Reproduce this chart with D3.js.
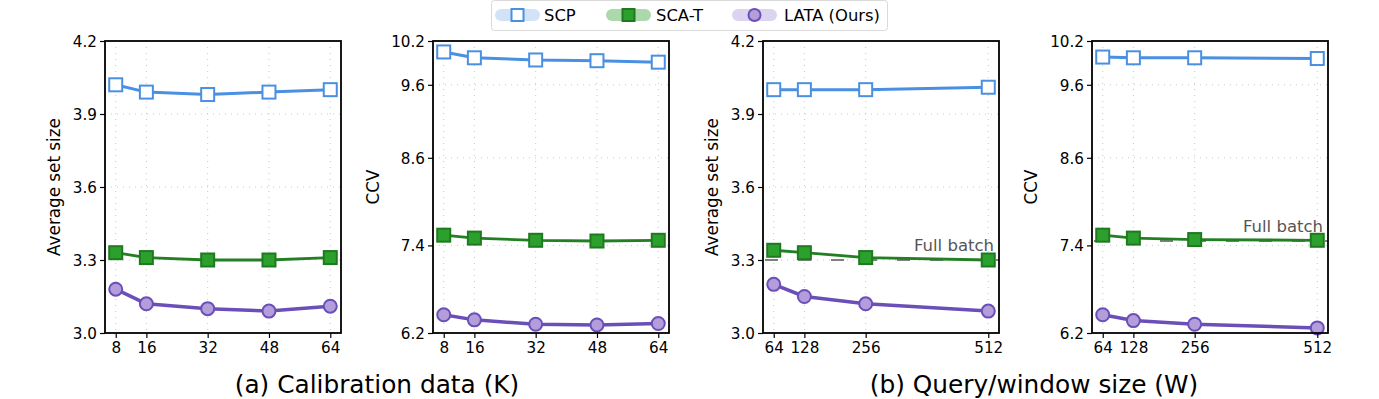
<!DOCTYPE html>
<html><head><meta charset="utf-8">
<script src="https://cdn.jsdelivr.net/npm/d3@7"></script>
<style>body{margin:0;background:#fff}svg{font-family:"DejaVu Sans",sans-serif}</style>
</head><body><svg id="c" width="1379" height="399"></svg>
<script>
const series = ["SCP", "SCA-T", "LATA (Ours)"];
const kValues = [8, 16, 32, 48, 64];
const wValues = [64, 128, 256, 512];
// panel (a) average set size
const kSetSCP = [4.02, 3.99, 3.98, 3.99, 4.00];
const kSetSCAT = [3.33, 3.31, 3.30, 3.30, 3.31];
const kSetLATA = [3.18, 3.12, 3.10, 3.09, 3.11];
// panel (a) CCV
const kCcvSCP = [10.05, 9.97, 9.94, 9.93, 9.91];
const kCcvSCAT = [7.54, 7.50, 7.47, 7.46, 7.47];
const kCcvLATA = [6.45, 6.38, 6.32, 6.31, 6.33];
// panel (b) average set size
const wSetSCP = [4.00, 4.00, 4.00, 4.01];
const wSetSCAT = [3.34, 3.33, 3.31, 3.30];
const wSetLATA = [3.20, 3.15, 3.12, 3.09];
// panel (b) CCV
const wCcvSCP = [9.98, 9.97, 9.97, 9.96];
const wCcvSCAT = [7.54, 7.50, 7.48, 7.47];
const wCcvLATA = [6.45, 6.37, 6.32, 6.27];
const fullBatchSet = 3.30;
const fullBatchCcv = 7.46;
const setTicks = [3.0, 3.3, 3.6, 3.9, 4.2];
const ccvTicks = [6.2, 7.4, 8.6, 9.6, 10.2];

const styles = [
  {line:"#4a90e2", fill:"#ffffff", edge:"#4a90e2", shape:"square", pill:"rgba(74,144,226,0.25)", lw:3},
  {line:"#237f23", fill:"#2ca02c", edge:"#1f7a1f", shape:"square", pill:"rgba(44,160,44,0.4)", lw:2.8},
  {line:"#6a4fb8", fill:"#b39ddb", edge:"#6a4fb8", shape:"circle", pill:"rgba(140,110,210,0.3)", lw:3.5}
];

const svg = d3.select("#c");
const plotTop = 41, plotBottom = 333;

const panels = [
  {x0:105, x1:341, xs:kValues, xd:[5.2,66.8], ticks:setTicks, yd:[3.0,4.2], ys:[kSetSCP,kSetSCAT,kSetLATA], label:"Average set size", labelX:54},
  {x0:433, x1:669, xs:kValues, xd:[5.2,66.8], ticks:ccvTicks, yd:[6.2,10.2], ys:[kCcvSCP,kCcvSCAT,kCcvLATA], label:"CCV", labelX:373},
  {x0:763, x1:999, xs:wValues, xd:[41.6,534.4], ticks:setTicks, yd:[3.0,4.2], ys:[wSetSCP,wSetSCAT,wSetLATA], label:"Average set size", labelX:712, full:fullBatchSet, fullY:251, fullX:994},
  {x0:1092, x1:1328, xs:wValues, xd:[41.6,534.4], ticks:ccvTicks, yd:[6.2,10.2], ys:[wCcvSCP,wCcvSCAT,wCcvLATA], label:"CCV", labelX:1031, full:fullBatchCcv, fullY:232, fullX:1323}
];

function marker(g, shape, cx, cy, s, st) {
  if (shape === "square") {
    g.append("rect").attr("x", cx - s/2).attr("y", cy - s/2).attr("width", s).attr("height", s)
      .attr("fill", st.fill).attr("stroke", st.edge).attr("stroke-width", 2);
  } else {
    g.append("circle").attr("cx", cx).attr("cy", cy).attr("r", s/2)
      .attr("fill", st.fill).attr("stroke", st.edge).attr("stroke-width", 2);
  }
}

panels.forEach(p => {
  const x = d3.scaleLinear().domain(p.xd).range([p.x0, p.x1]);
  const y = d3.scaleLinear().domain(p.yd).range([plotBottom, plotTop]);
  const g = svg.append("g");
  g.selectAll(".gx").data(p.xs).enter().append("line")
    .attr("x1", d => x(d)).attr("x2", d => x(d)).attr("y1", plotTop).attr("y2", plotBottom)
    .attr("stroke", "#c8c8c8").attr("stroke-width", 1).attr("stroke-dasharray", "1,5");
  g.selectAll(".gy").data(p.ticks.slice(1, -1)).enter().append("line")
    .attr("y1", d => y(d)).attr("y2", d => y(d)).attr("x1", p.x0).attr("x2", p.x1)
    .attr("stroke", "#c8c8c8").attr("stroke-width", 1).attr("stroke-dasharray", "1,5");
  if (p.full !== undefined) {
    g.append("line").attr("x1", p.x0).attr("x2", p.x1).attr("y1", y(p.full)).attr("y2", y(p.full))
      .attr("stroke", "#808080").attr("stroke-width", 2).attr("stroke-dasharray", "13,20").attr("stroke-dashoffset", -2);
    g.append("text").attr("x", p.fullX).attr("y", p.fullY).attr("text-anchor", "end")
      .attr("font-size", 16.5).attr("fill", "#555").text("Full batch");
  }
  p.ys.forEach((vals, si) => {
    const st = styles[si];
    const line = d3.line().x((d, i) => x(p.xs[i])).y(d => y(d));
    g.append("path").datum(vals).attr("d", line).attr("fill", "none")
      .attr("stroke", st.line).attr("stroke-width", st.lw).attr("stroke-linejoin", "round");
    vals.forEach((v, i) => marker(g, st.shape, x(p.xs[i]), y(v), 13, st));
  });
  const ax = g.append("g").attr("transform", `translate(0,${plotBottom})`)
    .call(d3.axisBottom(x).tickValues(p.xs).tickSize(5).tickPadding(4).tickFormat(d3.format("d")));
  const ay = g.append("g").attr("transform", `translate(${p.x0},0)`)
    .call(d3.axisLeft(y).tickValues(p.ticks).tickSize(5).tickPadding(3).tickFormat(d3.format(".1f")));
  [ax, ay].forEach(a => {
    a.select(".domain").remove();
    a.selectAll("text").attr("font-size", 15.2).attr("fill", "#000").attr("font-family", "DejaVu Sans");
    a.selectAll("line").attr("stroke", "#000").attr("stroke-width", 1.2);
  });
  ay.selectAll("text").attr("dy", "0.36em");
  g.append("rect").attr("x", p.x0).attr("y", plotTop).attr("width", p.x1 - p.x0).attr("height", plotBottom - plotTop)
    .attr("fill", "none").attr("stroke", "#000").attr("stroke-width", 1.8);
  g.append("text").attr("transform", `translate(${p.labelX},${(plotTop+plotBottom)/2}) rotate(-90)`)
    .attr("text-anchor", "middle").attr("dy", "0.35em").attr("font-size", 16.8).text(p.label);
});

svg.append("text").attr("x", 377).attr("y", 393).attr("text-anchor", "middle").attr("font-size", 24.8).text("(a) Calibration data (K)");
svg.append("text").attr("x", 1034).attr("y", 393).attr("text-anchor", "middle").attr("font-size", 24.8).text("(b) Query/window size (W)");

const lg = svg.append("g");
lg.append("rect").attr("x", 491.5).attr("y", 0.5).attr("width", 396).attr("height", 30).attr("rx", 3)
  .attr("fill", "#fff").attr("stroke", "#d9d9d9").attr("stroke-width", 1);
const legX = [496, 607, 733];
const textX = [544, 656, 784];
series.forEach((s, i) => {
  const st = styles[i];
  lg.append("line").attr("x1", legX[i] + 5).attr("x2", legX[i] + 38).attr("y1", 15).attr("y2", 15)
    .attr("stroke", st.pill).attr("stroke-width", 12).attr("stroke-linecap", "round");
  marker(lg, st.shape, legX[i] + 21.5, 15, 12, st);
  lg.append("text").attr("x", textX[i]).attr("y", 15).attr("dy", "0.36em").attr("font-size", 16.4).text(s);
});
</script></body></html>
